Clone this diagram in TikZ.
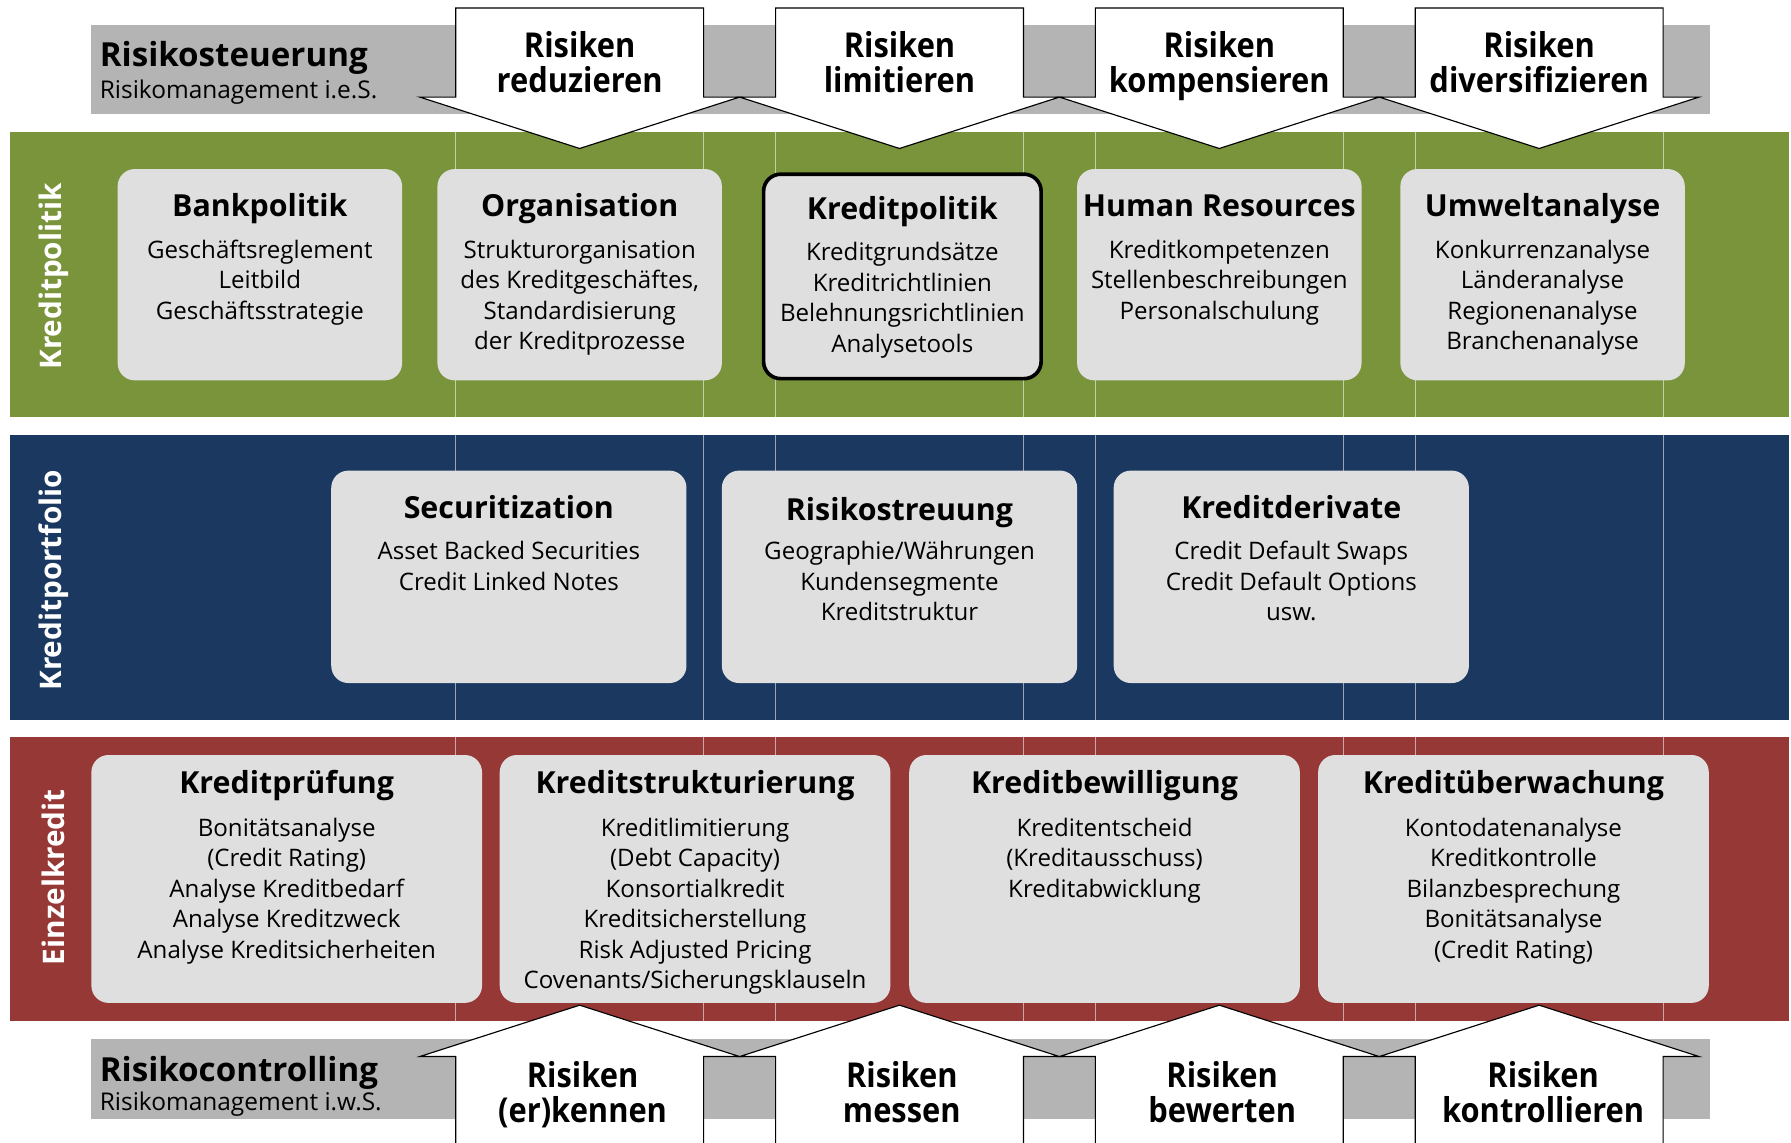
\documentclass[tikz,border=0pt]{standalone}
\usepackage{fontspec}
\setmainfont{Open Sans}
\newfontfamily\narrowfont[FakeStretch=0.9]{Open Sans}
\usepackage{tikz}
\definecolor{bandgreen}{RGB}{122,148,60}
\definecolor{bandblue}{RGB}{26,56,96}
\definecolor{bandred}{RGB}{150,56,53}
\definecolor{bargray}{RGB}{180,180,180}
\definecolor{boxgray}{RGB}{223,223,223}

\begin{document}
\begin{tikzpicture}[x=0.5pt,y=0.5pt,yscale=-1,xscale=1,
  gridline/.style={white,opacity=0.55,line width=0.4pt},
  riskarrow/.style={draw=black,fill=white,line width=0.5pt,line join=miter},
  infobox/.style={rectangle,rounded corners=7.5pt,fill=boxgray,inner sep=0pt},
  boxtitle/.style={anchor=base,inner sep=0pt,font=\fontsize{13.3}{15}\selectfont\bfseries},
  boxbody/.style={anchor=north,inner sep=0pt,align=center,font=\fontsize{10.55}{13.35}\selectfont},
  arrowlabel/.style={anchor=base,align=center,inner sep=0pt,font=\narrowfont\bfseries\fontsize{15}{15.5}\selectfont},
  barhead/.style={anchor=west,inner sep=0pt,font=\bfseries\fontsize{14.5}{16}\selectfont},
  barsub/.style={anchor=west,inner sep=0pt,font=\fontsize{10.7}{13}\selectfont},
  sidelabel/.style={rotate=90,text=white,inner sep=0pt,font=\bfseries\fontsize{13}{15}\selectfont}]
\useasboundingbox (0,0) rectangle (1568,1000);
\clip (0,0) rectangle (1568,1000);

%Shape: Rectangle [gray bars]
\fill[bargray] (80,22) rectangle (1497,100);
\fill[bargray] (80,910) rectangle (1497,980);

%Shape: Rectangle [bands]
\fill[bandgreen] (9,116) rectangle (1566,365);
\fill[bandblue] (9,381) rectangle (1566,630);
\fill[bandred] (9,645) rectangle (1566,894);

%Straight Lines [thin lines in the bands]
\draw[gridline] (399,116) -- (399,894);
\draw[gridline] (616,116) -- (616,894);
\draw[gridline] (679,116) -- (679,894);
\draw[gridline] (896,116) -- (896,894);
\draw[gridline] (959,116) -- (959,894);
\draw[gridline] (1176,116) -- (1176,894);
\draw[gridline] (1239,116) -- (1239,894);
\draw[gridline] (1456,116) -- (1456,894);

%Shape: Arrow [down]
\draw[riskarrow] (399,7) -- (616,7) -- (616,85) -- (647.5,85) -- (507.5,130) -- (367.5,85) -- (399,85) -- cycle;
\draw[riskarrow] (679,7) -- (896,7) -- (896,85) -- (927.5,85) -- (787.5,130) -- (647.5,85) -- (679,85) -- cycle;
\draw[riskarrow] (959,7) -- (1176,7) -- (1176,85) -- (1207.5,85) -- (1067.5,130) -- (927.5,85) -- (959,85) -- cycle;
\draw[riskarrow] (1239,7) -- (1456,7) -- (1456,85) -- (1487.5,85) -- (1347.5,130) -- (1207.5,85) -- (1239,85) -- cycle;

%Shape: Arrow [up]
\draw[riskarrow] (399,1010) -- (399,925) -- (367.5,925) -- (507.5,880) -- (647.5,925) -- (616,925) -- (616,1010);
\draw[riskarrow] (679,1010) -- (679,925) -- (647.5,925) -- (787.5,880) -- (927.5,925) -- (896,925) -- (896,1010);
\draw[riskarrow] (959,1010) -- (959,925) -- (927.5,925) -- (1067.5,880) -- (1207.5,925) -- (1176,925) -- (1176,1010);
\draw[riskarrow] (1239,1010) -- (1239,925) -- (1207.5,925) -- (1347.5,880) -- (1487.5,925) -- (1456,925) -- (1456,1010);

% Text Node
\node[barhead] (steuerung) at (87,51) {Risikosteuerung};
\node[barsub] (steuerungSub) at (87,81) {Risikomanagement i.e.S.};
\node[barhead] (controlling) at (87,939) {Risikocontrolling};
\node[barsub] (controllingSub) at (87,967) {Risikomanagement i.w.S.};

% Text Node
\node[arrowlabel] (reduzieren) at (507.5,81) {Risiken\\reduzieren};
\node[arrowlabel] (limitieren) at (787.5,81) {Risiken\\limitieren};
\node[arrowlabel] (kompensieren) at (1067.5,81) {Risiken\\kompensieren};
\node[arrowlabel] (diversifizieren) at (1347.5,81) {Risiken\\diversifizieren};
\node[arrowlabel] (erkennen) at (510,983) {Risiken\\(er)kennen};
\node[arrowlabel] (messen) at (789.5,983) {Risiken\\messen};
\node[arrowlabel] (bewerten) at (1070,983) {Risiken\\bewerten};
\node[arrowlabel] (kontrollieren) at (1351,983) {Risiken\\kontrollieren};

% Text Node
\node[sidelabel] (kreditpolitikLabel) at (47,242) {Kreditpolitik};
\node[sidelabel] (kreditportfolioLabel) at (47,508) {Kreditportfolio};
\node[sidelabel] (einzelkreditLabel) at (47,768) {Einzelkredit};

%Shape: Rounded Rectangle [Kreditpolitik row]
\node[infobox,minimum width=124.5pt,minimum height=92.5pt] (bank) at (227.5,240.5) {};
\node[infobox,minimum width=124.5pt,minimum height=92.5pt] (organisation) at (507.5,240.5) {};
\node[infobox,draw=black,line width=1.6pt,minimum width=121.5pt,minimum height=89.5pt] (kreditpolitik) at (790,242) {};
\node[infobox,minimum width=124.5pt,minimum height=92.5pt] (human) at (1067.5,240.5) {};
\node[infobox,minimum width=124.5pt,minimum height=92.5pt] (umwelt) at (1350.5,240.5) {};

\node[boxtitle] (bankTitle) at ([yshift=21pt]bank.north) {Bankpolitik};
\node[boxbody] (bankBody) at ([yshift=31pt]bank.north) {Geschäftsreglement\\Leitbild\\Geschäftsstrategie};
\node[boxtitle] (organisationTitle) at ([yshift=21pt]organisation.north) {Organisation};
\node[boxbody] (organisationBody) at ([yshift=31pt]organisation.north) {Strukturorganisation\\des Kreditgeschäftes,\\Standardisierung\\der Kreditprozesse};
\node[boxtitle] (kreditpolitikTitle) at ([yshift=20.5pt]kreditpolitik.north) {Kreditpolitik};
\node[boxbody] (kreditpolitikBody) at ([yshift=30.5pt]kreditpolitik.north) {Kreditgrundsätze\\Kreditrichtlinien\\Belehnungsrichtlinien\\Analysetools};
\node[boxtitle] (humanTitle) at ([yshift=21pt]human.north) {Human Resources};
\node[boxbody] (humanBody) at ([yshift=31pt]human.north) {Kreditkompetenzen\\Stellenbeschreibungen\\Personalschulung};
\node[boxtitle] (umweltTitle) at ([yshift=21pt]umwelt.north) {Umweltanalyse};
\node[boxbody] (umweltBody) at ([yshift=31pt]umwelt.north) {Konkurrenzanalyse\\Länderanalyse\\Regionenanalyse\\Branchenanalyse};

%Shape: Rounded Rectangle [Kreditportfolio row]
\node[infobox,minimum width=155.5pt,minimum height=93pt] (securitization) at (445.5,505) {};
\node[infobox,minimum width=155.5pt,minimum height=93pt] (streuung) at (787.5,505) {};
\node[infobox,minimum width=155.5pt,minimum height=93pt] (derivate) at (1130.5,505) {};

\node[boxtitle] (securitizationTitle) at ([yshift=21pt]securitization.north) {Securitization};
\node[boxbody] (securitizationBody) at ([yshift=31pt]securitization.north) {Asset Backed Securities\\Credit Linked Notes};
\node[boxtitle] (streuungTitle) at ([yshift=22pt]streuung.north) {Risikostreuung};
\node[boxbody] (streuungBody) at ([yshift=31pt]streuung.north) {Geographie/Währungen\\Kundensegmente\\Kreditstruktur};
\node[boxtitle] (derivateTitle) at ([yshift=21pt]derivate.north) {Kreditderivate};
\node[boxbody] (derivateBody) at ([yshift=31pt]derivate.north) {Credit Default Swaps\\Credit Default Options\\usw.};

%Shape: Rounded Rectangle [Einzelkredit row]
\node[infobox,minimum width=171pt,minimum height=108.5pt] (pruefung) at (251,769.5) {};
\node[infobox,minimum width=171pt,minimum height=108.5pt] (strukturierung) at (608.5,769.5) {};
\node[infobox,minimum width=171pt,minimum height=108.5pt] (bewilligung) at (967,769.5) {};
\node[infobox,minimum width=171pt,minimum height=108.5pt] (ueberwachung) at (1325,769.5) {};

\node[boxtitle] (pruefungTitle) at ([yshift=17pt]pruefung.north) {Kreditprüfung};
\node[boxbody] (pruefungBody) at ([yshift=27.5pt]pruefung.north) {Bonitätsanalyse\\(Credit Rating)\\Analyse Kreditbedarf\\Analyse Kreditzweck\\Analyse Kreditsicherheiten};
\node[boxtitle] (strukturierungTitle) at ([yshift=17pt]strukturierung.north) {Kreditstrukturierung};
\node[boxbody] (strukturierungBody) at ([yshift=27.5pt]strukturierung.north) {Kreditlimitierung\\(Debt Capacity)\\Konsortialkredit\\Kreditsicherstellung\\Risk Adjusted Pricing\\Covenants/Sicherungsklauseln};
\node[boxtitle] (bewilligungTitle) at ([yshift=17pt]bewilligung.north) {Kreditbewilligung};
\node[boxbody] (bewilligungBody) at ([yshift=27.5pt]bewilligung.north) {Kreditentscheid\\(Kreditausschuss)\\Kreditabwicklung};
\node[boxtitle] (ueberwachungTitle) at ([yshift=17pt]ueberwachung.north) {Kreditüberwachung};
\node[boxbody] (ueberwachungBody) at ([yshift=27.5pt]ueberwachung.north) {Kontodatenanalyse\\Kreditkontrolle\\Bilanzbesprechung\\Bonitätsanalyse\\(Credit Rating)};

\end{tikzpicture}
\end{document}
